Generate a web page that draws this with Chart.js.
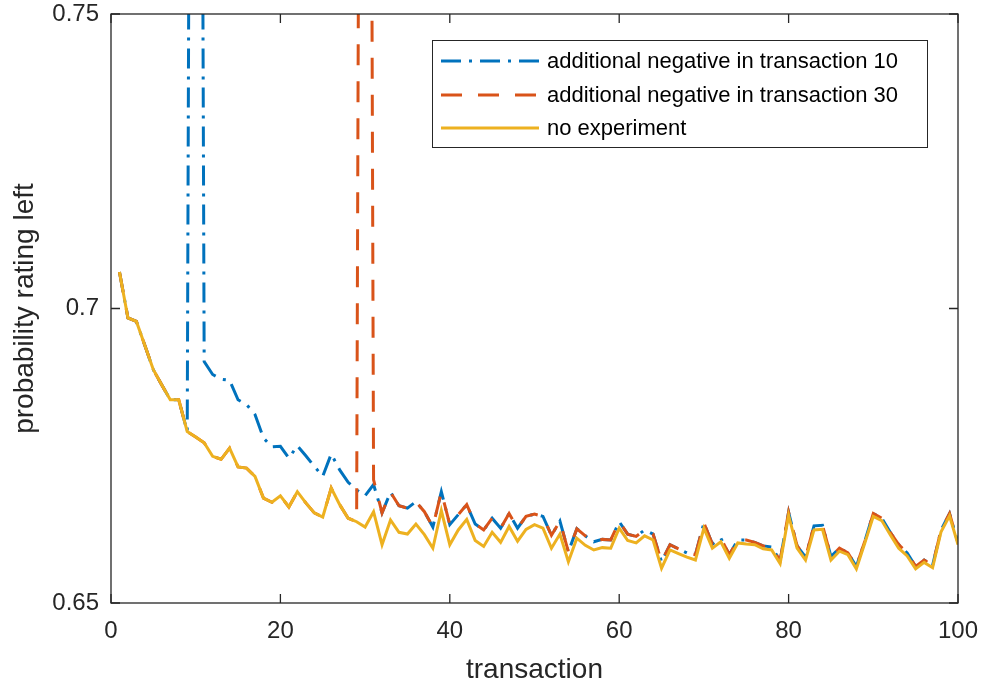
<!DOCTYPE html>
<html>
<head>
<meta charset="utf-8">
<script src="https://cdn.jsdelivr.net/npm/chart.js@4.4.0/dist/chart.umd.min.js"></script>
<style>
  html, body { margin: 0; padding: 0; background: #fff; }
  #wrap { width: 982px; height: 690px; }
</style>
</head>
<body>
<div id="wrap"><canvas id="chart" width="982" height="690"></canvas></div>
<script>
// transaction index 1..100
const transactions = Array.from({ length: 100 }, (_, i) => i + 1);

const seriesLabels = [
  "additional negative in transaction 10",
  "additional negative in transaction 30",
  "no experiment",
];

// additional negative rating in transaction 10 (spike goes far above the axis)
const negAt10 = [
  0.7062, 0.6984, 0.6978, 0.6937, 0.6896, 0.6870, 0.6845, 0.6845, 0.6791, 1.1000,
  0.6910, 0.6888, 0.6880, 0.6878, 0.6845, 0.6837, 0.6820, 0.6780, 0.6765, 0.6766,
  0.6746, 0.6767, 0.6750, 0.6732, 0.6715, 0.6753, 0.6726, 0.6705, 0.6692, 0.6682,
  0.6701, 0.6653, 0.6688, 0.6665, 0.6661, 0.6672, 0.6655, 0.6629, 0.6689, 0.6633,
  0.6650, 0.6667, 0.6634, 0.6624, 0.6644, 0.6627, 0.6652, 0.6627, 0.6647, 0.6651,
  0.6647, 0.6615, 0.6639, 0.6587, 0.6626, 0.6614, 0.6604, 0.6608, 0.6607, 0.6638,
  0.6617, 0.6613, 0.6624, 0.6617, 0.6570, 0.6599, 0.6592, 0.6585, 0.6582, 0.6636,
  0.6600, 0.6610, 0.6582, 0.6607, 0.6607, 0.6603, 0.6597, 0.6595, 0.6572, 0.6654,
  0.6597, 0.6578, 0.6631, 0.6632, 0.6579, 0.6593, 0.6585, 0.6562, 0.6605, 0.6652,
  0.6644, 0.6620, 0.6599, 0.6585, 0.6562, 0.6573, 0.6564, 0.6624, 0.6652, 0.6602,
];

// additional negative rating in transaction 30
const negAt30 = [
  0.7062, 0.6984, 0.6978, 0.6937, 0.6896, 0.6870, 0.6845, 0.6845, 0.6791, 0.6782,
  0.6772, 0.6749, 0.6744, 0.6763, 0.6731, 0.6729, 0.6715, 0.6678, 0.6671, 0.6682,
  0.6663, 0.6689, 0.6670, 0.6653, 0.6646, 0.6695, 0.6667, 0.6644, 0.6638, 1.1000,
  0.6709, 0.6653, 0.6688, 0.6665, 0.6661, 0.6672, 0.6655, 0.6629, 0.6689, 0.6633,
  0.6650, 0.6667, 0.6634, 0.6624, 0.6644, 0.6627, 0.6652, 0.6627, 0.6647, 0.6651,
  0.6647, 0.6615, 0.6639, 0.6587, 0.6626, 0.6614, 0.6604, 0.6608, 0.6607, 0.6638,
  0.6617, 0.6613, 0.6624, 0.6617, 0.6570, 0.6599, 0.6592, 0.6585, 0.6582, 0.6636,
  0.6600, 0.6610, 0.6582, 0.6607, 0.6607, 0.6603, 0.6597, 0.6595, 0.6572, 0.6654,
  0.6597, 0.6578, 0.6631, 0.6632, 0.6579, 0.6593, 0.6585, 0.6562, 0.6605, 0.6652,
  0.6644, 0.6620, 0.6599, 0.6585, 0.6562, 0.6573, 0.6564, 0.6624, 0.6652, 0.6602,
];

// no experiment
const noExperiment = [
  0.7062, 0.6984, 0.6978, 0.6937, 0.6896, 0.6870, 0.6845, 0.6845, 0.6791, 0.6782,
  0.6772, 0.6749, 0.6744, 0.6763, 0.6731, 0.6729, 0.6715, 0.6678, 0.6671, 0.6682,
  0.6663, 0.6689, 0.6670, 0.6653, 0.6646, 0.6695, 0.6667, 0.6644, 0.6638, 0.6629,
  0.6655, 0.6599, 0.6641, 0.6620, 0.6617, 0.6634, 0.6616, 0.6593, 0.6657, 0.6599,
  0.6624, 0.6642, 0.6606, 0.6596, 0.6620, 0.6603, 0.6630, 0.6605, 0.6625, 0.6633,
  0.6627, 0.6593, 0.6617, 0.6570, 0.6610, 0.6598, 0.6590, 0.6594, 0.6593, 0.6627,
  0.6606, 0.6602, 0.6614, 0.6607, 0.6559, 0.6590, 0.6584, 0.6578, 0.6573, 0.6627,
  0.6593, 0.6604, 0.6576, 0.6602, 0.6600, 0.6599, 0.6592, 0.6590, 0.6567, 0.6649,
  0.6593, 0.6573, 0.6624, 0.6625, 0.6573, 0.6588, 0.6582, 0.6558, 0.6602, 0.6647,
  0.6640, 0.6616, 0.6593, 0.6580, 0.6558, 0.6569, 0.6560, 0.6621, 0.6648, 0.6599,
];

const xTicks = [0, 20, 40, 60, 80, 100];
const yTicks = [0.65, 0.7, 0.75];

const FONT = '"Liberation Sans", Arial, Helvetica, sans-serif';
const AXIS_COLOR = "#262626";

// MATLAB-style box with inward ticks on all four sides
const boxPlugin = {
  id: "box",
  afterDatasetsDraw(chart) {
    const { ctx, chartArea: a, scales } = chart;
    const len = 9;
    ctx.save();
    ctx.strokeStyle = AXIS_COLOR;
    ctx.lineWidth = 1.3;
    ctx.strokeRect(a.left, a.top, a.right - a.left, a.bottom - a.top);
    ctx.beginPath();
    scales.x.ticks.forEach((t) => {
      const px = scales.x.getPixelForValue(t.value);
      ctx.moveTo(px, a.bottom);
      ctx.lineTo(px, a.bottom - len);
      ctx.moveTo(px, a.top);
      ctx.lineTo(px, a.top + len);
    });
    scales.y.ticks.forEach((t) => {
      const py = scales.y.getPixelForValue(t.value);
      ctx.moveTo(a.left, py);
      ctx.lineTo(a.left + len, py);
      ctx.moveTo(a.right, py);
      ctx.lineTo(a.right - len, py);
    });
    ctx.stroke();
    ctx.restore();
  },
};

// legend box in the upper right corner
const legendPlugin = {
  id: "boxLegend",
  afterDraw(chart) {
    const { ctx } = chart;
    const x0 = 432.5, y0 = 40.5, w = 495, h = 107;
    const rowY = [61, 95, 128];
    ctx.save();
    ctx.fillStyle = "#fff";
    ctx.fillRect(x0, y0, w, h);
    ctx.strokeStyle = AXIS_COLOR;
    ctx.lineWidth = 1;
    ctx.strokeRect(x0, y0, w, h);
    chart.data.datasets.forEach((ds, i) => {
      ctx.beginPath();
      ctx.setLineDash(ds.borderDash || []);
      ctx.strokeStyle = ds.borderColor;
      ctx.lineWidth = ds.borderWidth;
      ctx.moveTo(441, rowY[i]);
      ctx.lineTo(539, rowY[i]);
      ctx.stroke();
      ctx.setLineDash([]);
      ctx.fillStyle = "#000";
      ctx.font = "22px " + FONT;
      ctx.textBaseline = "middle";
      ctx.fillText(ds.label, 547, rowY[i] + 1);
    });
    ctx.restore();
  },
};

document.addEventListener("DOMContentLoaded", () => {
  const ctx = document.getElementById("chart");
  new Chart(ctx, {
    type: "line",
    data: {
      labels: transactions,
      datasets: [
        {
          label: seriesLabels[0],
          data: negAt10,
          borderColor: "#0072BD",
          borderWidth: 3,
          borderDash: [20, 8, 3, 8],
          order: 3,
        },
        {
          label: seriesLabels[1],
          data: negAt30,
          borderColor: "#D95319",
          borderWidth: 3,
          borderDash: [21, 16],
          order: 2,
        },
        {
          label: seriesLabels[2],
          data: noExperiment,
          borderColor: "#EDB120",
          borderWidth: 3,
          order: 1,
        },
      ],
    },
    options: {
      responsive: false,
      animation: false,
      events: [],
      layout: { padding: { top: 14, right: 24, left: 0, bottom: 0 } },
      elements: {
        point: { radius: 0 },
        line: { tension: 0, fill: false },
      },
      plugins: {
        legend: { display: false },
        tooltip: { enabled: false },
      },
      scales: {
        x: {
          type: "linear",
          min: xTicks[0],
          max: xTicks[xTicks.length - 1],
          afterBuildTicks: (scale) => {
            scale.ticks = xTicks.map((v) => ({ value: v }));
          },
          afterFit: (scale) => {
            scale.height = 87;
            scale.paddingLeft = 0;
            scale.paddingRight = 0;
          },
          grid: { display: false, drawTicks: false },
          border: { display: false },
          ticks: {
            color: AXIS_COLOR,
            font: { family: FONT, size: 24 },
            padding: 14,
            maxRotation: 0,
          },
          title: {
            display: true,
            text: "transaction",
            color: AXIS_COLOR,
            font: { family: FONT, size: 28 },
            padding: { top: 0, bottom: 3 },
          },
        },
        y: {
          type: "linear",
          min: yTicks[0],
          max: yTicks[yTicks.length - 1],
          afterBuildTicks: (scale) => {
            scale.ticks = yTicks.map((v) => ({ value: v }));
          },
          afterFit: (scale) => {
            scale.width = 111;
            scale.paddingTop = 0;
            scale.paddingBottom = 0;
          },
          grid: { display: false, drawTicks: false },
          border: { display: false },
          ticks: {
            color: AXIS_COLOR,
            font: { family: FONT, size: 24 },
            padding: 12,
            callback: (v) => String(v),
          },
          title: {
            display: true,
            text: "probability rating left",
            color: AXIS_COLOR,
            font: { family: FONT, size: 28 },
            padding: { top: 8, bottom: 0 },
          },
        },
      },
    },
    plugins: [boxPlugin, legendPlugin],
  });
});
</script>
</body>
</html>
